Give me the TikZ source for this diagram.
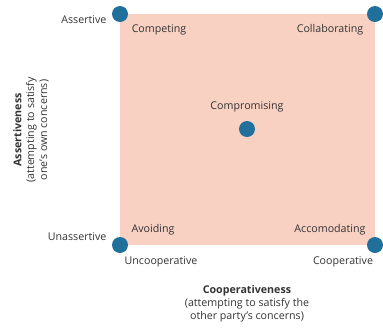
\documentclass[tikz,border=0pt]{standalone}
\usepackage{fontspec}
\setmainfont{Open Sans}
\usetikzlibrary{positioning}
\definecolor{quadfill}{HTML}{F8D1C2}
\definecolor{dotblue}{HTML}{21709B}
\definecolor{txtgray}{HTML}{333333}

\begin{document}
\begin{tikzpicture}[x=0.75pt,y=-0.75pt,font=\fontsize{8}{9.6}\selectfont,text=txtgray,
  dot/.style={circle,fill=dotblue,minimum size=12pt,inner sep=0pt},
  lab/.style={inner sep=1pt}]
  \useasboundingbox (0,0) rectangle (383,329);
  \fill[quadfill] (120,14) rectangle (375,245);
  % corner and centre points
  \node[dot] (tl) at (120,14) {};
  \node[dot] (tr) at (375,14) {};
  \node[dot] (bl) at (120,245) {};
  \node[dot] (br) at (375,245) {};
  \node[dot] (mid) at (247,129) {};
  % modes
  \node[lab] (competing) at (159,30) {Competing};
  \node[lab] (collab) at (330,30) {Collaborating};
  \node[lab] (compro) at (247,107) {Compromising};
  \node[lab] (avoid) at (153,230) {Avoiding};
  \node[lab] (accom) at (330,230) {Accomodating};
  % axis ends
  \node[lab,anchor=east] (assert) at (108,20) {Assertive};
  \node[lab,anchor=east] (unassert) at (108,237) {Unassertive};
  \node[lab] (uncoop) at (161,262) {Uncooperative};
  \node[lab] (coop) at (343,262) {Cooperative};
  % axis titles
  \node[lab,align=center] (xtitle) at (247,304) {\textbf{Cooperativeness}\\(attempting to satisfy the\\other party’s concerns)};
  \node[lab,align=center,rotate=90] (ytitle) at (31,130) {\textbf{Assertiveness}\\(attempting to satisfy\\one’s own concerns)};
\end{tikzpicture}
\end{document}
